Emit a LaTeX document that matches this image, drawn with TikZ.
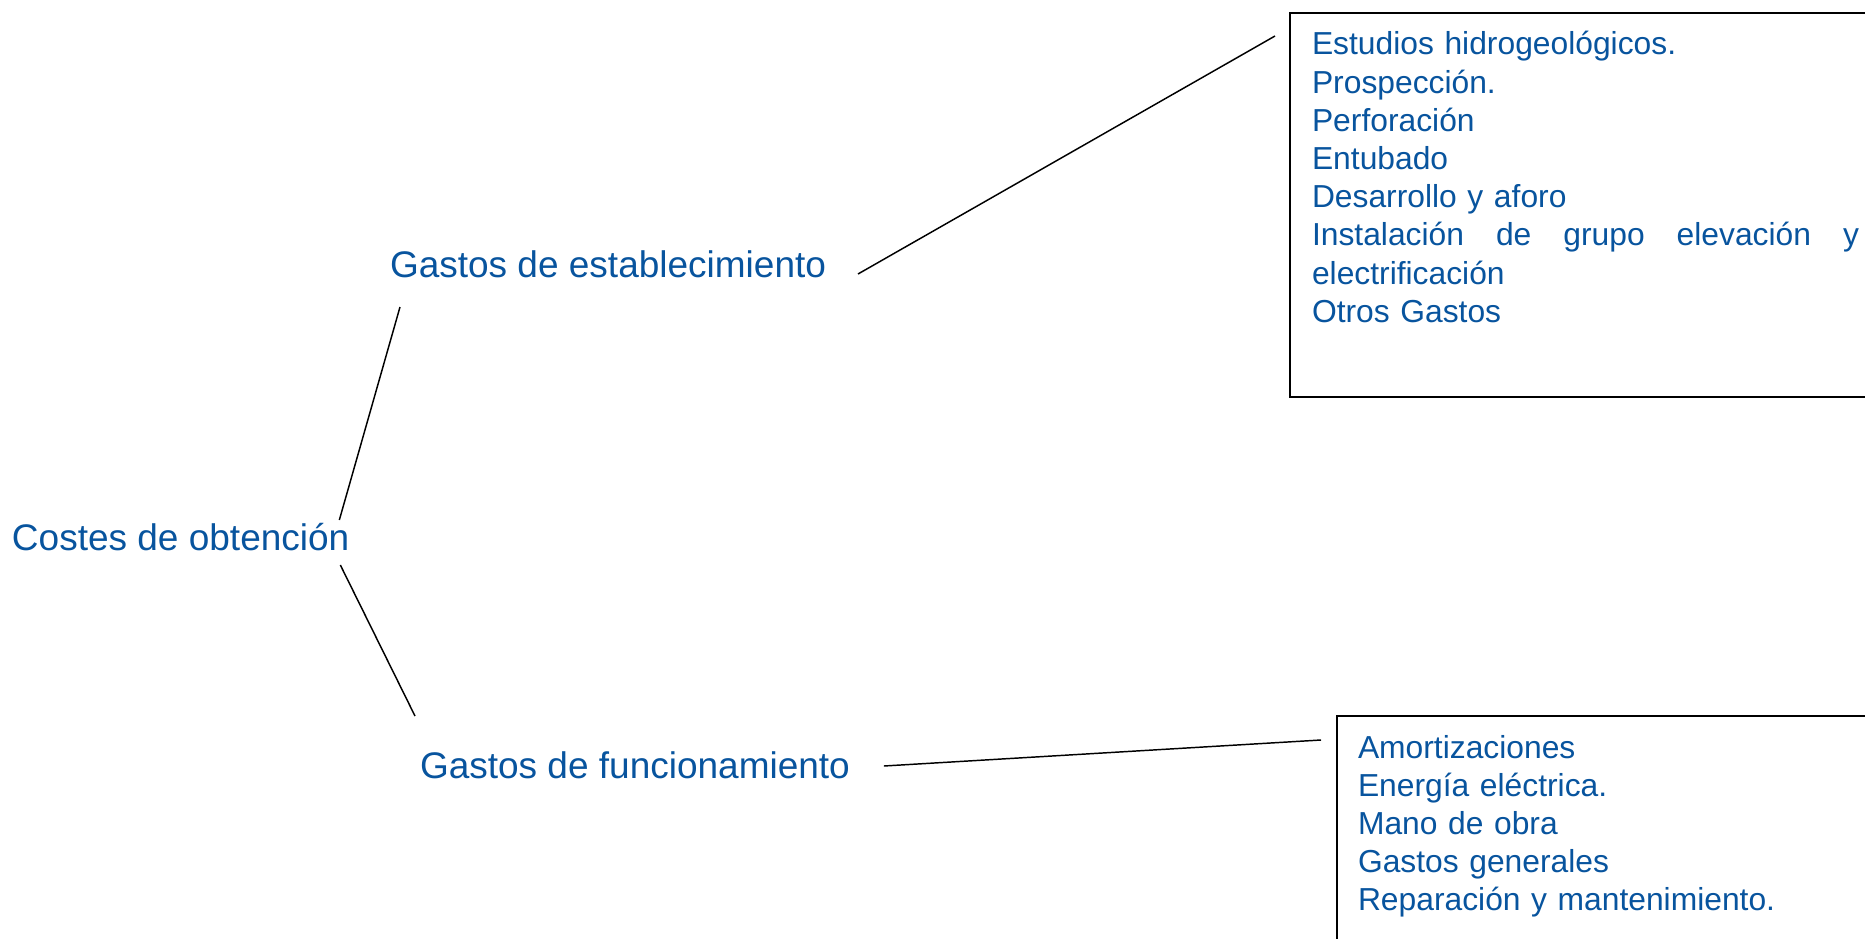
\documentclass[tikz,border=0pt]{standalone}
\usepackage{fontspec}
\setmainfont{Liberation Sans}
\usetikzlibrary{calc}
\definecolor{txtblue}{RGB}{8,84,158}
\begin{document}
\begin{tikzpicture}[x=0.75pt,y=-0.75pt,
  lbl/.style={anchor=base west, inner sep=0, outer sep=0, text=txtblue,
    font=\fontsize{27.75}{33}\selectfont},
  listtext/.style={anchor=base west, inner sep=0, outer sep=0, text=txtblue,
    align=left, font=\fontsize{23.85}{28.65}\selectfont},
  framebox/.style={draw=black, line width=1.4pt, anchor=north west,
    inner sep=0, outer sep=0},
  conn/.style={draw=black, line width=1.1pt}]
\clip (0,0) rectangle (1865,938);
% main labels
\node[lbl] (costes) at (12,550) {Costes de obtención};
\node[lbl] (estab) at (390,277) {Gastos de establecimiento};
\node[lbl] (func) at (420,778) {Gastos de funcionamiento};
% boxes
\node[framebox, minimum width=525pt, minimum height=288pt] (box1) at (1290,13) {};
\node[framebox, minimum width=450pt, minimum height=225pt] (box2) at (1337,716) {};
\node[listtext, text width=410.25pt] (list1) at (1312,55) {%
Estudios hidrogeológicos.\\
Prospección.\\
Perforación\\
Entubado\\
Desarrollo y aforo\\
\makebox[410.25pt][s]{Instalación\hfill de\hfill grupo\hfill elevación\hfill y}\\
electrificación\\
Otros Gastos};
\node[listtext, text width=400pt] (list2) at (1358,758) {%
Amortizaciones\\
Energía eléctrica.\\
Mano de obra\\
Gastos generales\\
Reparación y mantenimiento.};
% connectors
\draw[conn] ($(costes.base east)+(-10,-30)$) -- ($(estab.base west)+(10,30)$);
\draw[conn] ($(costes.base east)+(-9,15)$) -- ($(func.base west)+(-5,-62)$);
\draw[conn] ($(estab.base east)+(32,-3)$) -- ($(box1.north west)+(-15,23)$);
\draw[conn] ($(func.base east)+(34,-12)$) -- ($(box2.north west)+(-16,24)$);
\end{tikzpicture}
\end{document}
